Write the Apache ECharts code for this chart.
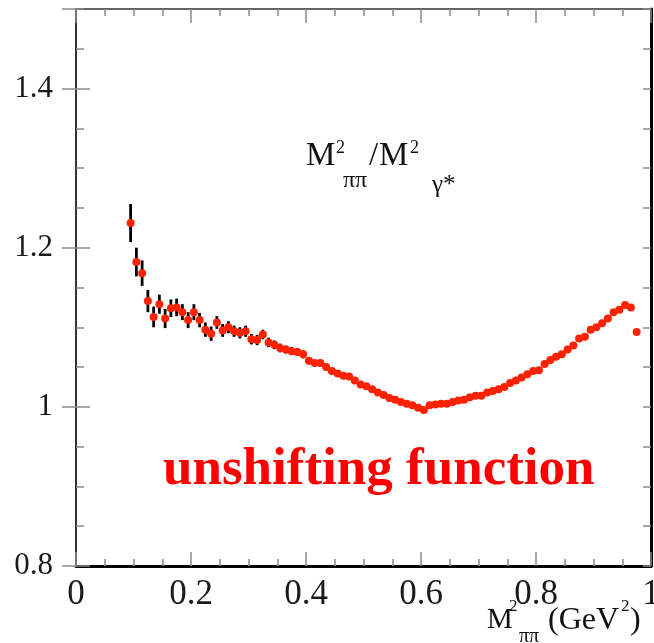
<!DOCTYPE html>
<html>
<head>
<meta charset="utf-8">
<script src="https://cdn.jsdelivr.net/npm/echarts@6/dist/echarts.min.js"></script>
<style>
  html, body { margin: 0; padding: 0; background: #ffffff; }
  #chart { width: 654px; height: 643px; }
</style>
</head>
<body>
<div id="chart"></div>
<script>
// ---------------- data ----------------
const xValues = [
  0.095, 0.105, 0.115, 0.125, 0.135, 0.145, 0.155, 0.165, 0.175, 0.185,
  0.195, 0.205, 0.215, 0.225, 0.235, 0.245, 0.255, 0.265, 0.275, 0.285,
  0.295, 0.305, 0.315, 0.325, 0.335, 0.345, 0.355, 0.365, 0.375, 0.385,
  0.395, 0.405, 0.415, 0.425, 0.435, 0.445, 0.455, 0.465, 0.475, 0.485,
  0.495, 0.505, 0.515, 0.525, 0.535, 0.545, 0.555, 0.565, 0.575, 0.585,
  0.595, 0.605, 0.615, 0.625, 0.635, 0.645, 0.655, 0.665, 0.675, 0.685,
  0.695, 0.705, 0.715, 0.725, 0.735, 0.745, 0.755, 0.765, 0.775, 0.785,
  0.795, 0.805, 0.815, 0.825, 0.835, 0.845, 0.855, 0.865, 0.875, 0.885,
  0.895, 0.905, 0.915, 0.925, 0.935, 0.945, 0.955, 0.965, 0.975
];
const yValues = [
  1.231, 1.182, 1.168, 1.133, 1.113, 1.129, 1.111, 1.124, 1.125, 1.119,
  1.109, 1.119, 1.109, 1.097, 1.092, 1.106, 1.096, 1.100, 1.095, 1.093,
  1.095, 1.085, 1.084, 1.091, 1.081, 1.078, 1.074, 1.072, 1.070, 1.069,
  1.066, 1.058, 1.055, 1.055, 1.050, 1.045, 1.042, 1.039, 1.038, 1.033,
  1.028, 1.026, 1.022, 1.018, 1.015, 1.011, 1.009, 1.006, 1.004, 1.002,
  0.999, 0.996, 1.002, 1.003, 1.004, 1.004, 1.006, 1.008, 1.009, 1.012,
  1.014, 1.014, 1.018, 1.020, 1.022, 1.025, 1.030, 1.033, 1.037, 1.041,
  1.045, 1.046, 1.054, 1.059, 1.063, 1.066, 1.072, 1.077, 1.086, 1.088,
  1.097, 1.100, 1.105, 1.111, 1.119, 1.122, 1.128, 1.125, 1.094
];
const yErrors = [
  0.024, 0.018, 0.016, 0.014, 0.013, 0.012, 0.012, 0.011, 0.011, 0.010,
  0.010, 0.010, 0.009, 0.009, 0.009, 0.008, 0.008, 0.0075, 0.007, 0.007,
  0.007, 0.0065, 0.0065, 0.006, 0.006, 0.0055, 0.0055, 0.005, 0.005, 0.005,
  0.005, 0.0045, 0.004, 0.004, 0.004, 0.004, 0.004, 0.004, 0.004, 0.004,
  0.004, 0.003, 0.003, 0.003, 0.003, 0.003, 0.003, 0.003, 0.003, 0.003,
  0.003, 0.003, 0.003, 0.003, 0.003, 0.003, 0.003, 0.003, 0.003, 0.003,
  0.003, 0.003, 0.003, 0.003, 0.003, 0.003, 0.003, 0.003, 0.003, 0.003,
  0.003, 0.003, 0.003, 0.003, 0.003, 0.003, 0.003, 0.003, 0.003, 0.003,
  0.003, 0.003, 0.003, 0.003, 0.003, 0.003, 0.003, 0.003, 0.003
];
const xTickValues = [0, 0.2, 0.4, 0.6, 0.8, 1.0];
const xTickLabels = ['0', '0.2', '0.4', '0.6', '0.8', '1'];
const yTickValues = [0.8, 1.0, 1.2, 1.4];
const yTickLabels = ['0.8', '1', '1.2', '1.4'];

// ---------------- helpers ----------------
function labelFor(values, labels) {
  return function (v) {
    for (let i = 0; i < values.length; i++) {
      if (Math.abs(values[i] - v) < 1e-6) return labels[i];
    }
    return '';
  };
}

const SERIF = '"Liberation Serif", "Times New Roman", serif';
const TICK_COLOR = '#8a8a8a';

const chart = echarts.init(document.getElementById('chart'), null, { renderer: 'canvas' });

const errData = xValues.map((x, i) => [x, yValues[i], yErrors[i]]);
const ptData = xValues.map((x, i) => [x, yValues[i]]);

function txt(text, x, y, size, extra) {
  return {
    type: 'text', x: x, y: y, silent: true,
    style: Object.assign({
      text: text, fontFamily: SERIF, fontSize: size, fill: '#111',
      align: 'left', verticalAlign: 'middle'
    }, extra || {})
  };
}

const option = {
  animation: false,
  backgroundColor: '#ffffff',
  grid: { left: 76, right: 3, top: 9, bottom: 77, containLabel: false, outerBoundsMode: 'none' },
  xAxis: [
    {
      type: 'value', position: 'bottom', min: 0, max: 1, interval: 0.2,
      splitLine: { show: false },
      axisLine: { show: true, onZero: false, lineStyle: { color: '#000', width: 3 } },
      axisTick: { show: true, inside: true, length: 14, lineStyle: { color: TICK_COLOR, width: 1.5 } },
      minorTick: { show: true, splitNumber: 4, length: 7, lineStyle: { color: TICK_COLOR, width: 1.5 } },
      axisLabel: {
        show: true, margin: 11, showMinLabel: true, showMaxLabel: true, hideOverlap: false,
        fontFamily: SERIF, fontSize: 35, color: '#1a1a1a',
        formatter: labelFor(xTickValues, xTickLabels)
      }
    },
    {
      type: 'value', position: 'top', min: 0, max: 1, interval: 0.2,
      splitLine: { show: false },
      axisLine: { show: true, onZero: false, lineStyle: { color: '#333', width: 1.5 } },
      axisTick: { show: true, inside: true, length: 14, lineStyle: { color: TICK_COLOR, width: 1.5 } },
      minorTick: { show: true, splitNumber: 4, length: 7, lineStyle: { color: TICK_COLOR, width: 1.5 } },
      axisLabel: { show: false }
    }
  ],
  yAxis: [
    {
      // minor ticks, left
      type: 'value', position: 'left', min: 0.8, max: 1.5, interval: 0.05,
      splitLine: { show: false },
      axisLine: { show: true, onZero: false, lineStyle: { color: '#333', width: 2 } },
      axisTick: { show: true, inside: true, length: 8, lineStyle: { color: TICK_COLOR, width: 1.5 } },
      axisLabel: { show: false }
    },
    {
      // major ticks + labels, left
      type: 'value', position: 'left', min: 0.8, max: 1.5, interval: 0.2,
      splitLine: { show: false },
      axisLine: { show: false },
      axisTick: { show: true, inside: true, length: 14, lineStyle: { color: TICK_COLOR, width: 1.5 } },
      axisLabel: {
        show: true, margin: 23, showMaxLabel: false,
        fontFamily: SERIF, fontSize: 31, color: '#1a1a1a',
        formatter: labelFor(yTickValues, yTickLabels)
      }
    },
    {
      // minor ticks, right
      type: 'value', position: 'right', min: 0.8, max: 1.5, interval: 0.05,
      splitLine: { show: false },
      axisLine: { show: true, onZero: false, lineStyle: { color: '#000', width: 3 } },
      axisTick: { show: true, inside: true, length: 8, lineStyle: { color: TICK_COLOR, width: 1.5 } },
      axisLabel: { show: false }
    },
    {
      // major ticks, right
      type: 'value', position: 'right', min: 0.8, max: 1.5, interval: 0.2,
      splitLine: { show: false },
      axisLine: { show: false },
      axisTick: { show: true, inside: true, length: 14, lineStyle: { color: TICK_COLOR, width: 1.5 } },
      axisLabel: { show: false }
    }
  ],
  series: [
    {
      type: 'custom',
      xAxisIndex: 0, yAxisIndex: 0,
      z: 2,
      data: errData,
      renderItem: function (params, api) {
        const x = api.value(0), y = api.value(1), e = api.value(2);
        const p1 = api.coord([x, y + e]);
        const p2 = api.coord([x, y - e]);
        return {
          type: 'line',
          shape: { x1: p1[0], y1: p1[1], x2: p2[0], y2: p2[1] },
          style: { stroke: '#000', lineWidth: 2.8 }
        };
      }
    },
    {
      type: 'scatter',
      xAxisIndex: 0, yAxisIndex: 0,
      z: 3,
      symbol: 'circle',
      symbolSize: 8,
      itemStyle: { color: '#ff2200', opacity: 1, borderWidth: 0 },
      data: ptData
    }
  ],
  graphic: [
    // inner label  M^2_{ππ}/M^2_{γ*}
    txt('M', 306, 156, 33),
    txt('2', 336, 148, 18),
    txt('ππ', 343, 181, 24),
    txt('/', 369, 156, 33),
    txt('M', 379, 156, 33),
    txt('2', 410, 148, 18),
    txt('γ*', 432, 185, 25),
    // x-axis title  M^2_{ππ} (GeV^2)
    txt('M', 487, 620, 29),
    txt('2', 509, 607, 17),
    txt('ππ', 519, 637, 20),
    txt('(GeV', 548, 621, 32),
    txt('2', 621, 607, 17),
    txt(')', 630, 621, 32),
    // red annotation
    txt('unshifting function', 163, 470, 53, { fill: '#ff0000', fontWeight: 'bold' })
  ]
};

chart.setOption(option);
</script>
</body>
</html>
